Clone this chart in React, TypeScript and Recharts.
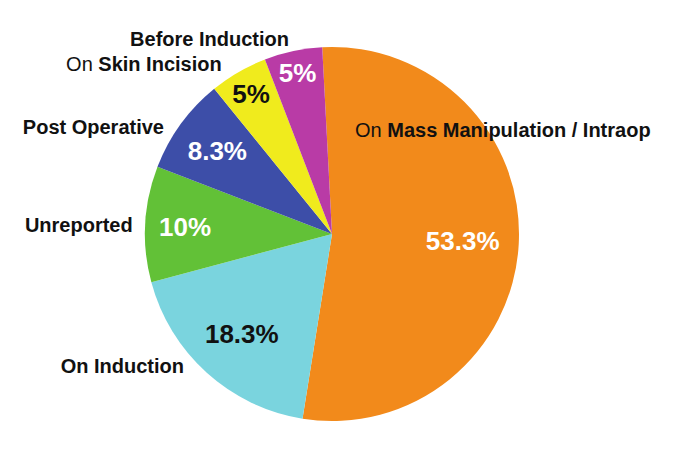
import React from "react";
import { PieChart, Pie, Cell } from "recharts";

// ---- data ----
const categories = [
  "Mass Manipulation / Intraop",
  "On Induction",
  "Unreported",
  "Post Operative",
  "Skin Incision",
  "Before Induction",
];
const prefixes = ["On ", "", "", "", "On ", ""];
const values = [53.3, 18.3, 10, 8.3, 5, 5];
const valueLabels = ["53.3%", "18.3%", "10%", "8.3%", "5%", "5%"];

// ---- style ----
const colors = ["#F28A1B", "#7AD4DE", "#62C137", "#3D4EA8", "#F0EB1D", "#B93BA6"];
const valueTextColors = ["#ffffff", "#111111", "#ffffff", "#ffffff", "#111111", "#ffffff"];
const valueRadiusFactor = [0.7, 0.72, 0.787, 0.758, 0.865, 0.884];
// outer name label layout relative to pie centre (px): [dx, dy, anchor]
const nameLayout: [number, number, "start" | "end"][] = [
  [23, -97.3, "start"],
  [-148, 139, "end"],
  [-199.3, -2.3, "end"],
  [-168, -100, "end"],
  [-110.3, -163.3, "end"],
  [-43, -188.3, "end"],
];

const FONT = "'Liberation Sans', Arial, Helvetica, sans-serif";
const RAD = Math.PI / 180;

const data = categories.map((name, i) => ({ name, value: values[i] }));

const renderLabel = (props: any) => {
  const { cx, cy, midAngle, outerRadius, index } = props;
  const r = outerRadius * valueRadiusFactor[index];
  const x = cx + r * Math.cos(-midAngle * RAD);
  const y = cy + r * Math.sin(-midAngle * RAD);
  const [dx, dy, anchor] = nameLayout[index];
  return (
    <g>
      <text
        x={x}
        y={y + 9.3}
        textAnchor="middle"
        fill={valueTextColors[index]}
        fontFamily={FONT}
        fontWeight="bold"
        fontSize={26}
      >
        {valueLabels[index]}
      </text>
      <text
        x={cx + dx}
        y={cy + dy}
        textAnchor={anchor}
        fill="#111111"
        fontFamily={FONT}
        fontSize={20}
      >
        {prefixes[index] ? <tspan fontWeight="normal">{prefixes[index]}</tspan> : null}
        <tspan fontWeight="bold">{categories[index]}</tspan>
      </text>
    </g>
  );
};

export default function App() {
  return (
    <div style={{ position: "absolute", left: 0, top: 0, width: 674, height: 449, background: "#fff" }}>
      <PieChart width={674} height={449} margin={{ top: 0, right: 0, bottom: 0, left: 0 }}>
        <Pie
          data={data}
          dataKey="value"
          nameKey="name"
          cx={332}
          cy={234}
          outerRadius={187}
          startAngle={93}
          endAngle={-267}
          stroke="none"
          label={renderLabel}
          labelLine={false}
          isAnimationActive={false}
        >
          {data.map((d, i) => (
            <Cell key={d.name} fill={colors[i]} />
          ))}
        </Pie>
      </PieChart>
    </div>
  );
}
